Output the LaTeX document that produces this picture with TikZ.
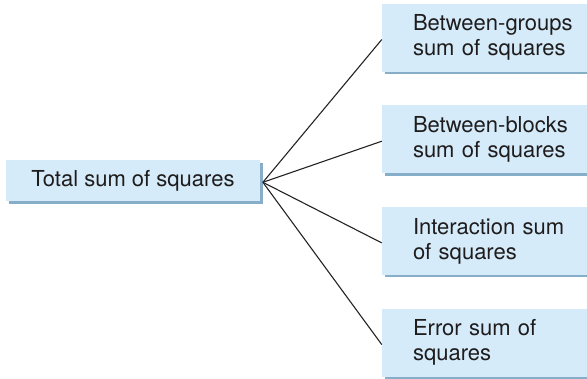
\documentclass[tikz,border=0pt]{standalone}
\usepackage{fontspec}
\setmainfont{TeX Gyre Heros}
\definecolor{boxfill}{RGB}{214,235,249}
\definecolor{boxshadow}{RGB}{135,174,200}
\definecolor{txt}{RGB}{30,28,29}
\definecolor{linec}{RGB}{35,35,35}
\tikzset{
  sbox/.style={fill=boxfill, draw=none, inner sep=0pt, text=txt,
    font=\fontsize{22pt}{25pt}\selectfont,
    preaction={fill=boxshadow, transform canvas={shift={(2.5pt,-2.5pt)}}}},
  lbox/.style={sbox, minimum width=254pt, minimum height=41pt, align=center},
  rbox/.style={sbox, minimum width=205pt, minimum height=68pt, align=left,
    text width=205pt}
}
\newcommand{\ind}{\hspace*{31pt}}
\begin{document}
\begin{tikzpicture}[x=1pt,y=-1pt]
\useasboundingbox (0,0) rectangle (587,378);
\node[lbox] (tot) at (133,180.5) {Total sum of squares};
\node[rbox] (b1) at (484.5,37.5) {\ind Between-groups\\\ind sum of squares};
\node[rbox] (b2) at (484.5,139.2) {\ind Between-blocks\\\ind sum of squares};
\node[rbox] (b3) at (484.5,240.9) {\ind Interaction sum\\\ind of squares};
\node[rbox] (b4) at (484.5,342.6) {\ind Error sum of\\\ind squares};
\coordinate (hub) at ([shift={(2.7pt,-1.8pt)}]tot.east);
\foreach \b in {b1,b2,b3,b4}
  \draw[draw=linec, line width=1.1pt] (hub) -- ([yshift=-2pt]\b.west);
\end{tikzpicture}
\end{document}
